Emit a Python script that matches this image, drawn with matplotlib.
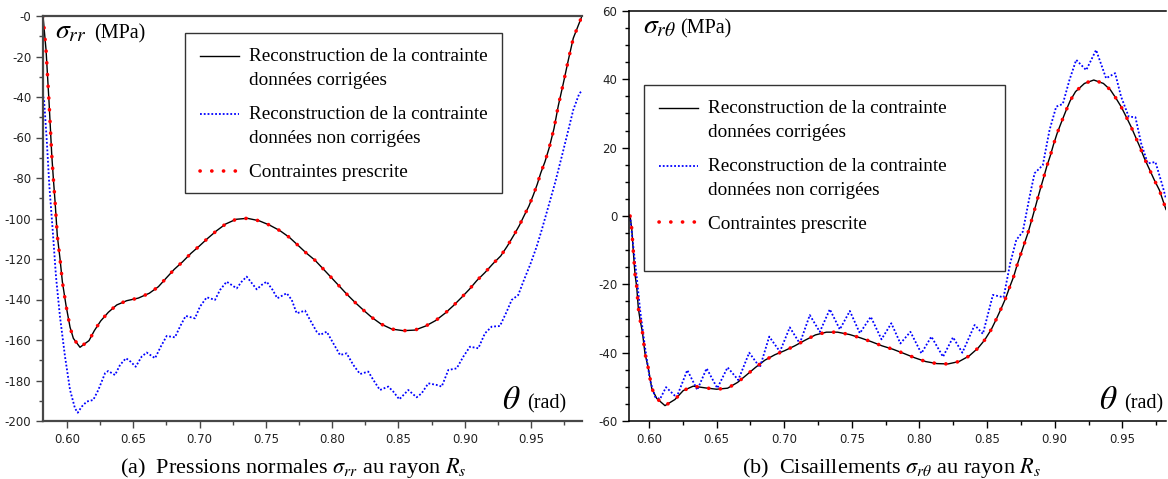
import numpy as np
import matplotlib.pyplot as plt
from matplotlib.patches import Rectangle
from matplotlib.legend_handler import HandlerLine2D

plt.switch_backend('Agg')
plt.rcParams['mathtext.fontset'] = 'stix'
plt.rcParams['axes.unicode_minus'] = False

# --- (a) sigma_rr : reconstruction, donnees corrigees (= contrainte prescrite)
th_rr = [0.5819, 0.5842, 0.5865, 0.5885, 0.5897, 0.5910, 0.5927, 0.5947, 0.5965,
         0.5992, 0.6023, 0.6048, 0.6098, 0.6166, 0.6206, 0.6254, 0.6312, 0.6375,
         0.6450, 0.6538, 0.6621, 0.6689, 0.6747, 0.6809, 0.6873, 0.6935, 0.6998,
         0.7061, 0.7129, 0.7197, 0.7275, 0.7360, 0.7448, 0.7526, 0.7606, 0.7677,
         0.7740, 0.7802, 0.7870, 0.7928, 0.7991, 0.8051, 0.8109, 0.8172, 0.8235,
         0.8298, 0.8368, 0.8449, 0.8536, 0.8624, 0.8705, 0.8780, 0.8851, 0.8913,
         0.8977, 0.9034, 0.9090, 0.9152, 0.9210, 0.9271, 0.9321, 0.9371, 0.9411,
         0.9446, 0.9484, 0.9517, 0.9547, 0.9572, 0.9605, 0.9637, 0.9673, 0.9705,
         0.9743, 0.9781, 0.9818, 0.9860, 0.9884]
s_rr = [0.0, -16.8, -43.0, -68.6, -80.2, -91.7, -108.6, -119.7, -131.2,
        -142.7, -153.7, -159.2, -163.6, -160.3, -155.4, -150.6, -146.3, -142.7,
        -140.6, -139.3, -136.9, -133.7, -129.5, -125.1, -121.3, -117.2, -113.6,
        -109.8, -106.0, -102.7, -100.4, -99.9, -101.1, -103.2, -106.0, -109.3,
        -113.1, -116.9, -120.6, -124.6, -129.0, -133.2, -137.3, -141.4, -145.2,
        -148.8, -152.1, -154.6, -155.4, -155.1, -153.1, -150.4, -146.8, -143.1,
        -138.9, -135.0, -130.7, -126.7, -122.5, -118.5, -113.6, -108.1, -103.5,
        -98.8, -93.8, -88.4, -83.0, -77.7, -71.9, -65.0, -55.5, -44.4,
        -33.3, -21.7, -11.0, -4.0, 0.0]

# --- (a) sigma_rr : reconstruction, donnees non corrigees
th_rr_nc = [0.5821, 0.5827, 0.5847, 0.5867, 0.5892, 0.5917, 0.5947, 0.5985, 0.6023,
            0.6060, 0.6081, 0.6111, 0.6149, 0.6198, 0.6236, 0.6287, 0.6311, 0.6362,
            0.6400, 0.6445, 0.6480, 0.6518, 0.6563, 0.6601, 0.6664, 0.6707, 0.6752,
            0.6814, 0.6852, 0.6895, 0.6965, 0.7003, 0.7054, 0.7116, 0.7154, 0.7204,
            0.7280, 0.7317, 0.7355, 0.7431, 0.7468, 0.7506, 0.7551, 0.7586, 0.7657,
            0.7695, 0.7732, 0.7795, 0.7833, 0.7883, 0.7908, 0.7959, 0.8008, 0.8059,
            0.8109, 0.8159, 0.8210, 0.8272, 0.8310, 0.8360, 0.8423, 0.8461, 0.8506,
            0.8574, 0.8637, 0.8675, 0.8725, 0.8788, 0.8826, 0.8876, 0.8939, 0.8989,
            0.9039, 0.9102, 0.9152, 0.9203, 0.9265, 0.9316, 0.9354, 0.9403, 0.9446,
            0.9492, 0.9542, 0.9580, 0.9630, 0.9680, 0.9731, 0.9781, 0.9818, 0.9864,
            0.9884]
s_rr_nc = [-39.8, -41.5, -61.0, -84.0, -105.7, -128.7, -148.5, -168.2, -184.7,
           -193.7, -195.9, -192.9, -190.4, -189.6, -184.7, -176.4, -175.3, -177.3,
           -172.3, -169.0, -170.7, -173.2, -168.2, -166.2, -169.0, -163.3, -158.0,
           -158.7, -153.4, -148.1, -149.3, -143.5, -138.9, -140.2, -135.3, -131.2,
           -134.5, -131.2, -128.7, -135.0, -132.8, -131.2, -135.3, -139.4, -136.9,
           -140.2, -146.8, -145.5, -150.1, -155.9, -157.5, -155.9, -161.6, -167.4,
           -166.6, -172.3, -176.8, -175.6, -179.7, -184.7, -183.0, -185.5, -189.3,
           -184.7, -188.3, -186.3, -181.4, -182.2, -183.0, -174.8, -174.0, -168.2,
           -163.3, -164.1, -156.7, -153.4, -153.1, -146.0, -140.2, -137.8, -130.4,
           -123.0, -113.9, -105.7, -94.2, -82.6, -69.5, -56.3, -46.4, -38.2,
           -37.0]

# --- (b) sigma_rtheta : reconstruction, donnees corrigees
th_rt = [0.5860, 0.5872, 0.5884, 0.5897, 0.5909, 0.5921, 0.5934, 0.5951, 0.5970,
         0.5995, 0.6020, 0.6057, 0.6118, 0.6192, 0.6253, 0.6327, 0.6414, 0.6500,
         0.6581, 0.6655, 0.6722, 0.6788, 0.6857, 0.6931, 0.7004, 0.7078, 0.7152,
         0.7231, 0.7312, 0.7394, 0.7484, 0.7566, 0.7645, 0.7723, 0.7804, 0.7883,
         0.7965, 0.8046, 0.8129, 0.8211, 0.8292, 0.8366, 0.8432, 0.8482, 0.8531,
         0.8568, 0.8605, 0.8637, 0.8666, 0.8696, 0.8720, 0.8747, 0.8772, 0.8801,
         0.8826, 0.8851, 0.8871, 0.8895, 0.8920, 0.8942, 0.8967, 0.8991, 0.9018,
         0.9048, 0.9080, 0.9114, 0.9154, 0.9220, 0.9289, 0.9360, 0.9412, 0.9454,
         0.9491, 0.9528, 0.9565, 0.9597, 0.9631, 0.9663, 0.9700, 0.9737, 0.9774,
         0.9823]
s_rt = [0.0, -3.6, -10.4, -17.3, -20.7, -27.0, -30.4, -33.9, -40.2,
        -44.6, -50.4, -53.4, -55.5, -53.7, -51.1, -49.8, -50.3, -50.7,
        -50.4, -48.7, -46.5, -44.3, -42.2, -40.6, -39.4, -38.0, -36.4,
        -34.8, -34.0, -34.0, -34.7, -35.7, -36.8, -38.0, -39.0, -40.2,
        -41.5, -42.6, -43.2, -43.3, -42.6, -41.0, -38.7, -36.3, -33.2,
        -30.2, -27.0, -24.1, -20.9, -17.8, -14.6, -11.4, -8.5, -5.1,
        -1.7, 1.8, 4.7, 8.1, 11.5, 14.6, 17.6, 20.9, 24.2,
        27.3, 30.5, 33.7, 36.4, 38.8, 39.8, 38.8, 36.9, 34.4,
        32.0, 29.1, 26.1, 23.2, 20.1, 16.9, 13.7, 10.5, 7.6,
        1.9]

# --- (b) sigma_rtheta : reconstruction, donnees non corrigees
th_rt_nc = [0.5860, 0.5884, 0.5909, 0.5934, 0.5970, 0.6007, 0.6044, 0.6081, 0.6126,
            0.6204, 0.6283, 0.6357, 0.6426, 0.6505, 0.6581, 0.6660, 0.6741, 0.6820,
            0.6889, 0.6968, 0.7041, 0.7115, 0.7189, 0.7263, 0.7337, 0.7411, 0.7485,
            0.7559, 0.7640, 0.7719, 0.7792, 0.7859, 0.7933, 0.8014, 0.8088, 0.8174,
            0.8248, 0.8317, 0.8408, 0.8469, 0.8543, 0.8622, 0.8671, 0.8716, 0.8764,
            0.8814, 0.8851, 0.8912, 0.8962, 0.9011, 0.9060, 0.9109, 0.9159, 0.9233,
            0.9306, 0.9380, 0.9447, 0.9491, 0.9547, 0.9597, 0.9639, 0.9688, 0.9745,
            0.9799, 0.9823]
s_rt_nc = [0.0, -9.0, -17.8, -27.5, -38.3, -48.0, -52.9, -53.6, -50.1,
           -53.1, -45.1, -50.9, -44.6, -50.4, -44.3, -48.0, -40.0, -44.3,
           -35.3, -39.7, -32.6, -37.3, -29.0, -33.9, -27.3, -33.2, -27.8,
           -34.3, -29.5, -36.1, -31.4, -37.3, -33.9, -40.2, -35.3, -41.2,
           -35.5, -40.0, -31.9, -34.5, -23.1, -23.8, -13.8, -7.0, -4.6,
           5.6, 12.5, 14.9, 25.2, 32.0, 32.8, 39.8, 45.7, 42.7,
           48.6, 40.3, 41.8, 34.9, 29.1, 28.9, 21.3, 15.4, 15.8,
           8.6, 5.0]

lab_ok = 'Reconstruction de la contrainte\ndonnées corrigées'
lab_nc = 'Reconstruction de la contrainte\ndonnées non corrigées'
lab_pr = 'Contraintes prescrite'


class FirstLineHandler(HandlerLine2D):
    # put the handle next to the first line of a two-line label
    def __init__(self, shift=0.0, **kw):
        super().__init__(**kw)
        self.shift = shift

    def create_artists(self, legend, orig_handle, xdescent, ydescent, width,
                       height, fontsize, trans):
        arts = super().create_artists(legend, orig_handle, xdescent, ydescent,
                                      width, height, fontsize, trans)
        for a in arts:
            a.set_ydata(np.asarray(a.get_ydata()) + self.shift * fontsize)
        return arts


def draw_panel(ax, th, s, th_nc, s_nc, spine_col, spine_lw):
    l1, = ax.plot(th, s, color='black', lw=1.0)
    l2, = ax.plot(th_nc, s_nc, color='#0000ff', lw=1.3, linestyle=(0, (1, 1.1)))
    l3, = ax.plot(th, s, color='#ff0000', lw=2.6, linestyle=(0, (0.05, 3.2)),
                  dash_capstyle='round')
    for side in ['left', 'top', 'bottom']:
        ax.spines[side].set_color(spine_col)
        ax.spines[side].set_linewidth(spine_lw)
    ax.spines['right'].set_visible(False)
    ax.set_xticks(np.arange(0.60, 0.951, 0.05))
    ax.set_xticklabels(['%.2f' % v for v in np.arange(0.60, 0.951, 0.05)])
    ax.set_xticks(np.arange(0.575, 0.99, 0.025), minor=True)
    ax.tick_params(which='both', direction='out', colors=spine_col, labelcolor='#222222',
                   labelsize=8.5, width=1.0)
    ax.tick_params(which='major', length=5)
    ax.tick_params(which='minor', length=3)
    return l1, l2, l3


fig = plt.figure(figsize=(11.68, 4.79), dpi=100)
ax1 = fig.add_axes([43 / 1168, 58 / 479, (582 - 43) / 1168, (421 - 16) / 479])
ax2 = fig.add_axes([629 / 1168, 58 / 479, (1166 - 629) / 1168, (421 - 11) / 479])

# ---------- (a)
h1 = draw_panel(ax1, th_rr, s_rr, th_rr_nc, s_rr_nc, '#474747', 1.6)
ax1.set_xlim(0.5819, 0.9884)
ax1.set_ylim(-200, 0)
yt = np.arange(0, -201, -20)
ax1.set_yticks(yt)
ax1.set_yticklabels(['-%d' % abs(v) for v in yt])
ax1.set_yticks(np.arange(-10, -200, -20), minor=True)

ax1.text(0.022, 0.944, r'$\sigma_{rr}$', transform=ax1.transAxes, fontsize=20,
         va='baseline', ha='left')
ax1.text(0.094, 0.944, '(MPa)', transform=ax1.transAxes, fontsize=14.5,
         family='Liberation Serif', va='baseline', ha='left')
ax1.text(0.886, 0.030, r'$\theta$', transform=ax1.transAxes, fontsize=24,
         va='baseline', ha='right')
ax1.text(0.970, 0.030, '(rad)', transform=ax1.transAxes, fontsize=14.5,
         family='Liberation Serif', va='baseline', ha='right')

# ---------- (b)
h2 = draw_panel(ax2, th_rt, s_rt, th_rt_nc, s_rt_nc, '#000000', 1.1)
ax2.set_xlim(0.5852, 0.9823)
ax2.set_ylim(-60, 60)
yt2 = np.arange(60, -61, -20)
ax2.set_yticks(yt2)
ax2.set_yticklabels(['%d' % v for v in yt2])
ax2.set_yticks(np.arange(-55, 60, 5), minor=True)

ax2.text(0.026, 0.945, r'$\sigma_{r\theta}$', transform=ax2.transAxes, fontsize=20,
         va='baseline', ha='left')
ax2.text(0.095, 0.945, '(MPa)', transform=ax2.transAxes, fontsize=14.5,
         family='Liberation Serif', va='baseline', ha='left')
ax2.text(0.910, 0.030, r'$\theta$', transform=ax2.transAxes, fontsize=24,
         va='baseline', ha='right')
ax2.text(0.994, 0.030, '(rad)', transform=ax2.transAxes, fontsize=14.5,
         family='Liberation Serif', va='baseline', ha='right')

# legend boxes (x, y, w, h in axes fraction) and legend contents
boxes = [(ax1, h1, (0.2635, 0.563, 0.588, 0.395)),
         (ax2, h2, (0.0279, 0.366, 0.672, 0.4537))]
for ax, h, (bx, by, bw, bh) in boxes:
    ax.add_patch(Rectangle((bx, by), bw, bh, transform=ax.transAxes,
                           facecolor='white', edgecolor='#333333', lw=1.0,
                           zorder=4.5))
    leg = ax.legend(h, [lab_ok, lab_nc, lab_pr], loc='upper left',
                    bbox_to_anchor=(bx, by + bh), borderaxespad=0,
                    prop={'family': 'Liberation Serif', 'size': 13.8},
                    frameon=False, handlelength=2.0, handletextpad=0.55,
                    labelspacing=0.9, borderpad=0.8,
                    handler_map={h[0]: FirstLineHandler(0.63),
                                 h[1]: FirstLineHandler(0.63)})
    for t in leg.get_texts():
        t.set_linespacing(1.5)

fig.text(293 / 1168, 6 / 479,
         r'(a)  Pressions normales $\sigma_{rr}$ au rayon $R_s$',
         ha='center', va='baseline', fontsize=16, family='Liberation Serif')
fig.text(891 / 1168, 6 / 479,
         r'(b)  Cisaillements $\sigma_{r\theta}$ au rayon $R_s$',
         ha='center', va='baseline', fontsize=16, family='Liberation Serif')

fig.savefig('out.png', dpi=100)
